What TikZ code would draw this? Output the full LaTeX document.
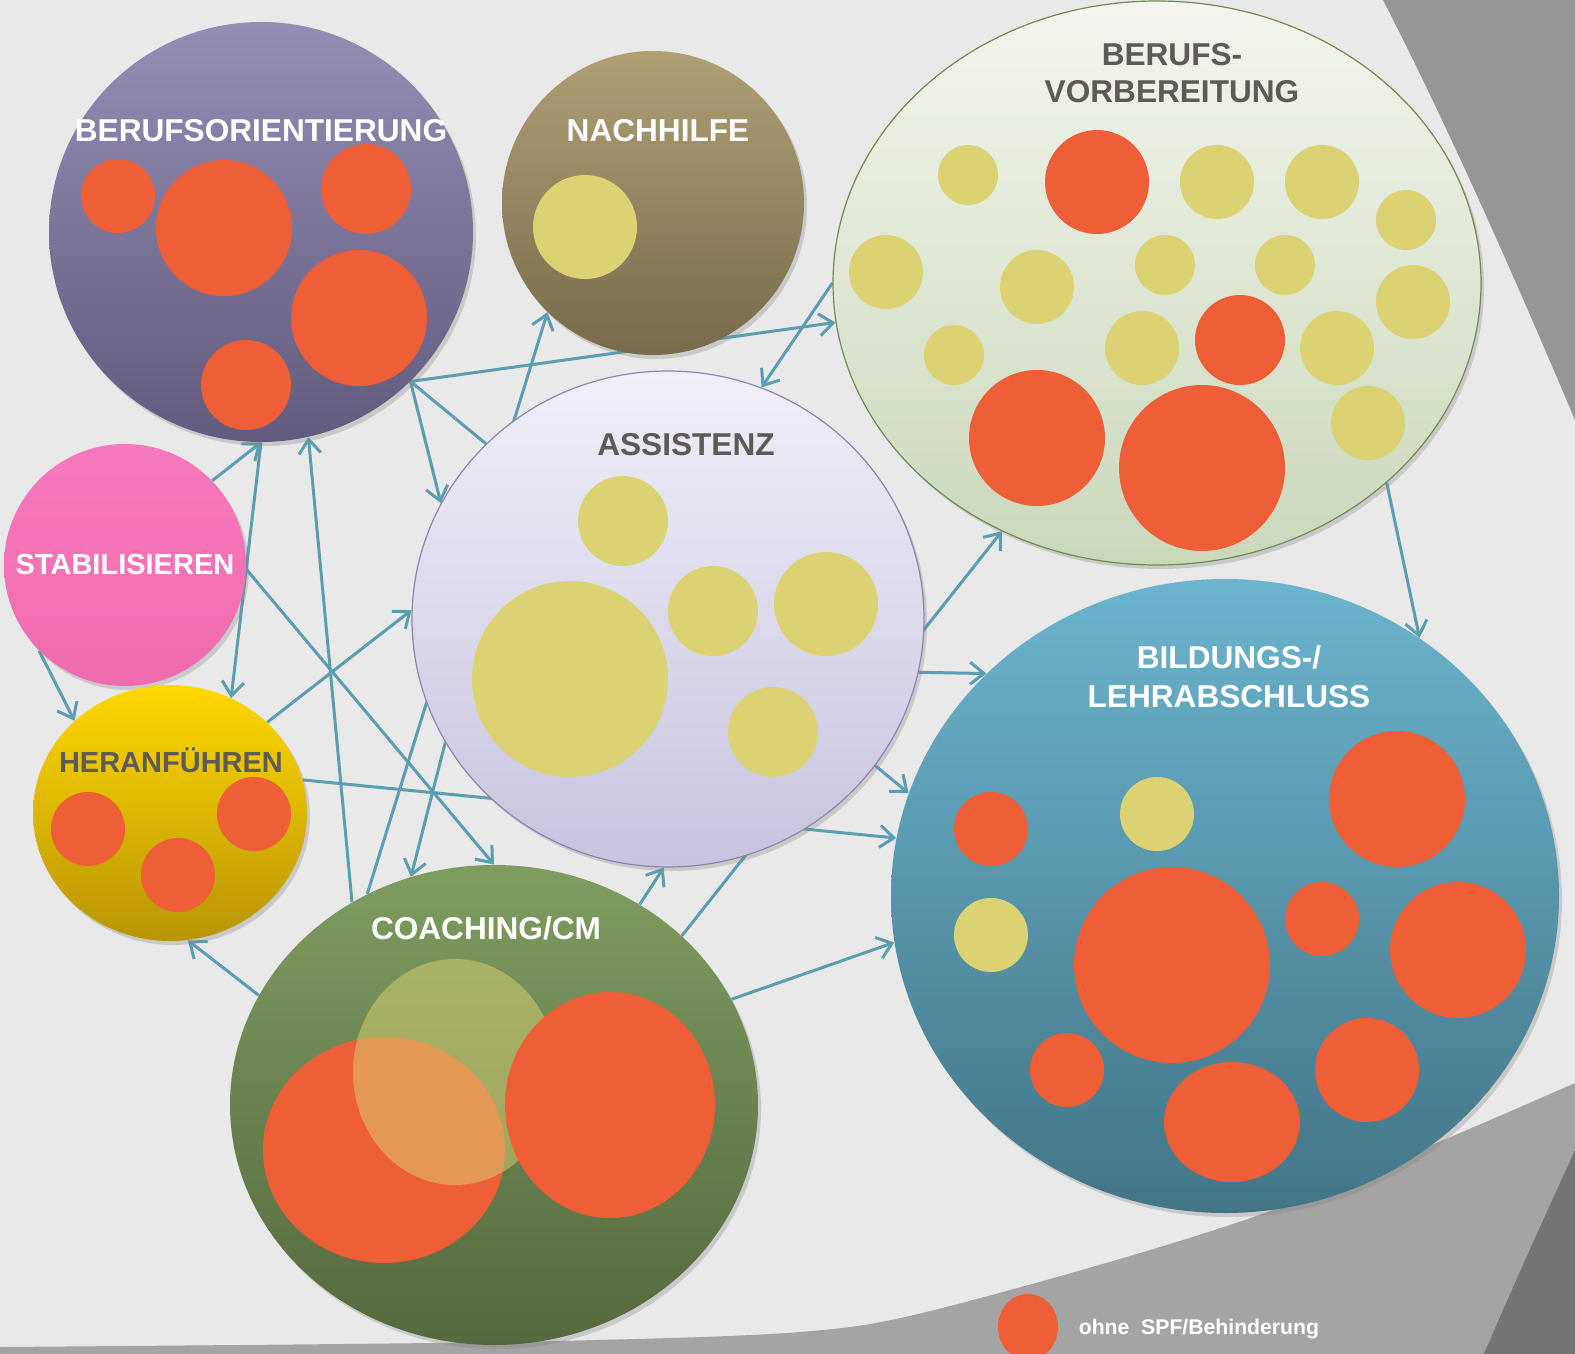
\documentclass[tikz,border=0pt]{standalone}
\usepackage{fontspec}
\setmainfont{Liberation Sans}
\usetikzlibrary{shapes.geometric,positioning,arrows.meta,shadows}

\definecolor{paper}{HTML}{E9E9E9}
\definecolor{greyband}{HTML}{969696}
\definecolor{lowband}{HTML}{A4A4A4}
\definecolor{darkband}{HTML}{757575}
\definecolor{linkblue}{HTML}{5B9DB1}
\definecolor{spfred}{HTML}{EE5E37}
\definecolor{dotyellow}{HTML}{DBD373}
\definecolor{darktext}{HTML}{5E5A55}
\definecolor{boTop}{HTML}{958DB5}
\definecolor{boBot}{HTML}{625B7D}
\definecolor{nhTop}{HTML}{AE9F74}
\definecolor{nhBot}{HTML}{786B4B}
\definecolor{bvTop}{HTML}{F3F5EE}
\definecolor{bvBot}{HTML}{CAD8BA}
\definecolor{bvRim}{HTML}{6F8C55}
\definecolor{asTop}{HTML}{F0EFF9}
\definecolor{asBot}{HTML}{C8C3DE}
\definecolor{asRim}{HTML}{8E86B0}
\definecolor{stTop}{HTML}{F57ABB}
\definecolor{stBot}{HTML}{F06BAF}
\definecolor{hfTop}{HTML}{FFD800}
\definecolor{hfBot}{HTML}{B89406}
\definecolor{coTop}{HTML}{7E9C60}
\definecolor{coBot}{HTML}{56693E}
\definecolor{blTop}{HTML}{6BB4CD}
\definecolor{blBot}{HTML}{437587}

\pgfdeclarelayer{backdrop}
\pgfdeclarelayer{links}
\pgfsetlayers{backdrop,links,main}

\tikzset{
  area/.style={ellipse, inner sep=0pt,
    drop shadow={shadow xshift=1.5pt, shadow yshift=-2pt, opacity=0.3}},
  title/.style={font=\bfseries\fontsize{15.8}{18.5}\selectfont, text=white,
    align=center, inner sep=0pt},
  link/.style={draw=linkblue, line width=1.5pt,
    -{Straight Barb[length=7pt,width=11pt]}},
  spf/.style={fill=spfred},
  nospf/.style={fill=dotyellow}
}

\begin{document}
\begin{tikzpicture}[x=0.5pt,y=-0.5pt]
  \useasboundingbox (0,0) rectangle (1575,1354);
  % Background with the grey bands
  \begin{pgfonlayer}{backdrop}
    \fill[paper] (0,0) rectangle (1575,1354);
    \fill[greyband] (1383,0) .. controls (1450,130) and (1520,290) .. (1575,420)
      -- (1575,0) -- cycle;
    \fill[lowband] plot[smooth] coordinates {(0,1347) (500,1342) (800,1332)
      (950,1306) (1262,1214) (1575,1083)} -- (1575,1354) -- (0,1354) -- cycle;
    \fill[darkband] (1484,1354) .. controls (1520,1270) and (1550,1205) .. (1575,1150)
      -- (1575,1354) -- cycle;
  \end{pgfonlayer}

  % The eight areas
  \node[area, minimum width=212pt, minimum height=210pt,
    top color=boTop, bottom color=boBot] (bo) at (261,232) {};
  \node[area, minimum width=151pt, minimum height=152pt,
    top color=nhTop, bottom color=nhBot] (nh) at (653,203) {};
  \node[area, minimum width=324pt, minimum height=282pt, draw=bvRim, line width=0.6pt,
    top color=bvTop, bottom color=bvBot] (bv) at (1157,283) {};
  \node[area, minimum width=256pt, minimum height=248pt, draw=asRim, line width=0.6pt,
    top color=asTop, bottom color=asBot] (as) at (668,619) {};
  \node[area, minimum width=121pt, minimum height=121pt,
    top color=stTop, bottom color=stBot] (st) at (125,565) {};
  \node[area, minimum width=137pt, minimum height=128pt,
    top color=hfTop, bottom color=hfBot] (hf) at (170,813) {};
  \node[area, minimum width=264pt, minimum height=240pt,
    top color=coTop, bottom color=coBot] (co) at (494,1105) {};
  \node[area, minimum width=334pt, minimum height=317pt,
    top color=blTop, bottom color=blBot] (bl) at (1225,896) {};

  % Dots: red = ohne SPF, yellow = the others
  \foreach \x/\y/\r in {118/196/37, 224/228/68, 366/189/45, 359/318/68, 246/385/45,
      1097/182/52, 1240/340/45, 1037/438/68, 1202/468/83,
      88/829/37, 178/875/37, 254/814/37,
      991/829/37, 1397/799/68, 1172/965/98, 1322/919/37, 1458/950/68,
      1067/1070/37, 1367/1070/52}
    \fill[spf] (\x,\y) circle[radius=\r];
  \fill[spf] (1232,1122) ellipse[x radius=68, y radius=60];
  \foreach \x/\y/\r in {585/227/52,
      968/175/30, 1217/182/37, 1322/182/37, 1406/220/30, 886/272/37, 1037/287/37,
      1165/265/30, 1285/265/30, 1413/302/37, 954/355/30, 1142/348/37, 1337/348/37,
      1368/423/37,
      623/521/45, 570/679/98, 713/611/45, 826/604/52, 773/732/45,
      1157/814/37, 991/935/37}
    \fill[nospf] (\x,\y) circle[radius=\r];
  % overlapping dots in COACHING/CM
  \fill[spf] (384,1150) ellipse[x radius=121, y radius=113];
  \fill[nospf, opacity=0.5] (455,1072) ellipse[x radius=102, y radius=113];
  \fill[spf] (610,1105) ellipse[x radius=105, y radius=113];

  % Titles
  \node[title] (botitle) at (261,131) {BERUFSORIENTIERUNG};
  \node[title] (nhtitle) at (658,131) {NACHHILFE};
  \node[title, text=darktext] (bvtitle) at (1172,73) {BERUFS-\\VORBEREITUNG};
  \node[title, text=darktext] (astitle) at (686,445) {ASSISTENZ};
  \node[title, font=\bfseries\fontsize{14.5}{17}\selectfont] (sttitle) at (125,565) {STABILISIEREN};
  \node[title, text=darktext, font=\bfseries\fontsize{14.5}{17}\selectfont] (hftitle) at (171,760) {HERANFÜHREN};
  \node[title] (cotitle) at (486,928) {COACHING/CM};
  \node[title, font=\bfseries\fontsize{15.8}{19.5}\selectfont] (bltitle) at (1229,677) {BILDUNGS-/\\LEHRABSCHLUSS};

  % Legend
  \node[spf, ellipse, inner sep=0pt, minimum width=30pt, minimum height=33pt] (legenddot) at (1028,1327) {};
  \node[title, font=\bfseries\fontsize{10.6}{13}\selectfont, right=10pt of legenddot, yshift=-1pt] (legendtext) {ohne\ \ SPF/Behinderung};

  % Connectors, behind the areas
  \begin{pgfonlayer}{links}
    \draw[link] (bo.-45) -- (bv.-173);
    \draw[link] (bo.-45) -- (as.153);
    \draw[link] (bo.-45) -- (bl.162);
    \draw[link] (co.121) -- (nh.-134);
    \draw[link] (bv.180) -- (as.68);
    \draw[link] (st.44) -- (bo.-90);
    \draw[link] (bo.-90) -- (hf.62);
    \draw[link] (st.-135) -- (hf.136);
    \draw[link] (co.125) -- (bo.-77);
    \draw[link] (st.-2) -- (co.90);
    \draw[link] (hf.43) -- (as.178);
    \draw[link] (hf.14) -- (bl.170);
    \draw[link] (as.-151) -- (co.110);
    \draw[link] (co.42) -- (bv.-122);
    \draw[link] (co.54) -- (as.-91);
    \draw[link] (as.-12) -- (bl.137);
    \draw[link] (co.24) -- (bl.-172);
    \draw[link] (co.155) -- (hf.-82);
    \draw[link] (bv.-41) -- (bl.53);
  \end{pgfonlayer}
\end{tikzpicture}
\end{document}
